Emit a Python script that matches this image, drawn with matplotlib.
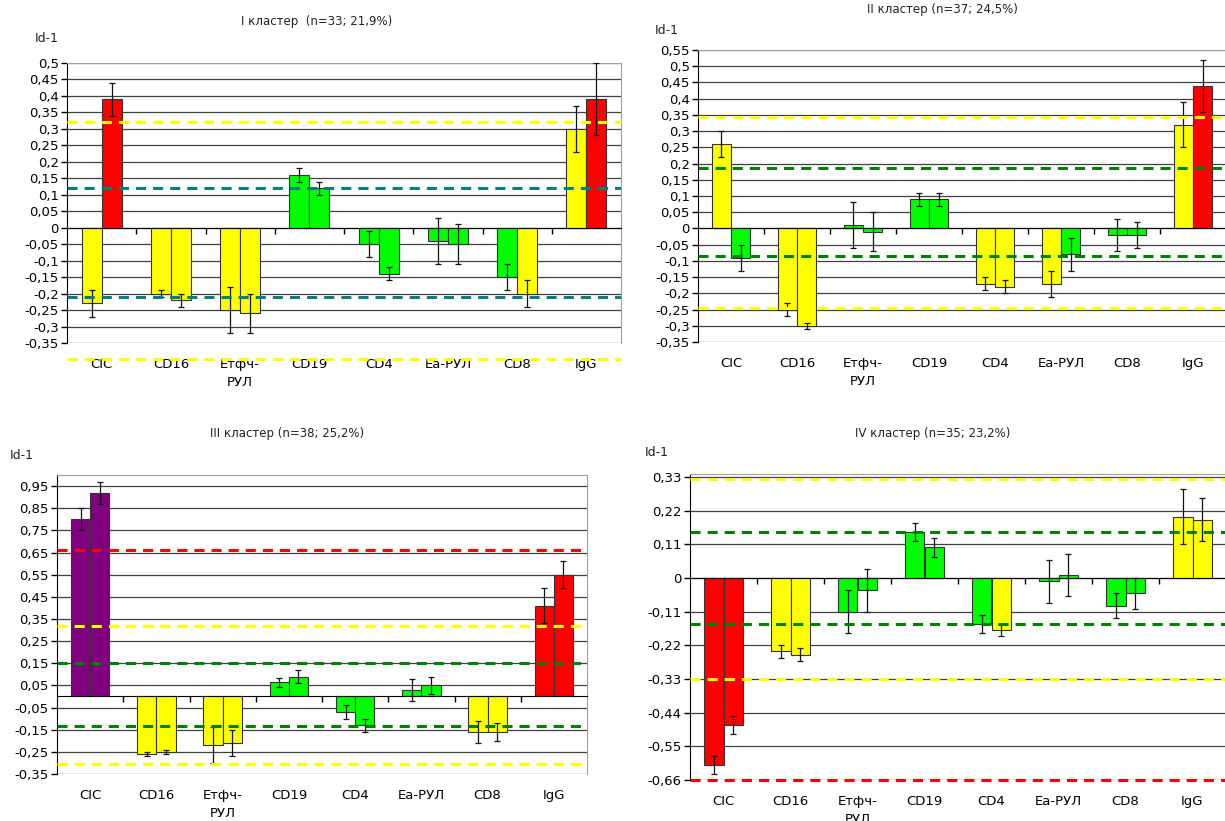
import matplotlib.pyplot as plt
import numpy as np

plt.rcParams['font.family'] = ['DejaVu Sans']

categories = ['CIC', 'CD16', 'Етфч-\nРУЛ', 'CD19', 'CD4', 'Ea-РУЛ', 'CD8', 'IgG']

# I кластер
c1_a = [-0.23, -0.20, -0.25, 0.16, -0.05, -0.04, -0.15, 0.30]
c1_b = [0.39, -0.22, -0.26, 0.12, -0.14, -0.05, -0.20, 0.39]
c1_err_a = [0.04, 0.01, 0.07, 0.02, 0.04, 0.07, 0.04, 0.07]
c1_err_b = [0.05, 0.02, 0.06, 0.02, 0.02, 0.06, 0.04, 0.11]
c1_lvl_a = ['y', 'y', 'y', 'g', 'g', 'g', 'g', 'y']
c1_lvl_b = ['r', 'y', 'y', 'g', 'g', 'g', 'y', 'r']
c1_outer = [0.32, -0.40]
c1_inner = [0.12, -0.21]
c1_crit = []

# II кластер
c2_a = [0.26, -0.25, 0.01, 0.09, -0.17, -0.17, -0.02, 0.32]
c2_b = [-0.09, -0.30, -0.01, 0.09, -0.18, -0.08, -0.02, 0.44]
c2_err_a = [0.04, 0.02, 0.07, 0.02, 0.02, 0.04, 0.05, 0.07]
c2_err_b = [0.04, 0.01, 0.06, 0.02, 0.02, 0.05, 0.04, 0.08]
c2_lvl_a = ['y', 'y', 'g', 'g', 'y', 'y', 'g', 'y']
c2_lvl_b = ['g', 'y', 'g', 'g', 'y', 'g', 'g', 'r']
c2_outer = [0.345, -0.245]
c2_inner = [0.185, -0.085]
c2_crit = []

# III кластер
c3_a = [0.80, -0.26, -0.22, 0.065, -0.07, 0.03, -0.16, 0.41]
c3_b = [0.92, -0.25, -0.21, 0.09, -0.13, 0.05, -0.16, 0.55]
c3_err_a = [0.05, 0.01, 0.08, 0.02, 0.03, 0.05, 0.05, 0.08]
c3_err_b = [0.05, 0.01, 0.06, 0.03, 0.03, 0.04, 0.04, 0.06]
c3_lvl_a = ['p', 'y', 'y', 'g', 'g', 'g', 'y', 'r']
c3_lvl_b = ['p', 'y', 'y', 'g', 'g', 'g', 'y', 'r']
c3_outer = [0.32, -0.305]
c3_inner = [0.15, -0.135]
c3_crit = [0.66]

# IV кластер
c4_a = [-0.61, -0.24, -0.11, 0.15, -0.15, -0.01, -0.09, 0.20]
c4_b = [-0.48, -0.25, -0.04, 0.10, -0.17, 0.01, -0.05, 0.19]
c4_err_a = [0.03, 0.02, 0.07, 0.03, 0.03, 0.07, 0.04, 0.09]
c4_err_b = [0.03, 0.02, 0.07, 0.03, 0.02, 0.07, 0.05, 0.07]
c4_lvl_a = ['r', 'y', 'g', 'g', 'g', 'g', 'g', 'y']
c4_lvl_b = ['r', 'y', 'g', 'g', 'y', 'g', 'g', 'y']
c4_outer = [0.325, -0.33]
c4_inner = [0.15, -0.15]
c4_crit = [-0.66]

titles = ['I кластер  (n=33; 21,9%)', 'II кластер (n=37; 24,5%)',
          'III кластер (n=38; 25,2%)', 'IV кластер (n=35; 23,2%)']

COLORS = {'y': '#ffff00', 'g': '#00ff00', 'r': '#ff0000', 'p': '#800080'}


def fmt(v):
    s = ('%.2f' % v).rstrip('0').rstrip('.')
    if s in ('-0', '0'):
        return '0'
    return s.replace('.', ',')


def draw_panel(rect, a, b, ea, eb, la, lb, outer, inner, crit, inner_col,
               ylim, ticks, title, title_xy, id_xy):
    ax = fig.add_axes(rect)
    x = np.arange(len(categories))
    w = 0.29
    ax.bar(x - w / 2, a, w, color=[COLORS[c] for c in la],
           edgecolor='#333333', lw=0.8, zorder=2)
    ax.bar(x + w / 2, b, w, color=[COLORS[c] for c in lb],
           edgecolor='#333333', lw=0.8, zorder=2)
    ax.errorbar(x - w / 2, a, yerr=ea, fmt='none', ecolor='#111111',
                elinewidth=0.9, capsize=2.5, capthick=0.9, zorder=3)
    ax.errorbar(x + w / 2, b, yerr=eb, fmt='none', ecolor='#111111',
                elinewidth=0.9, capsize=2.5, capthick=0.9, zorder=3)

    dash = (3.3, 2.3)
    for v in outer:
        ax.axhline(v, color='#ffff00', lw=2.2, dashes=dash, zorder=4,
                   clip_on=False)
    for v in inner:
        ax.axhline(v, color=inner_col, lw=2.2, dashes=dash, zorder=4)
    for v in crit:
        ax.axhline(v, color='#ff0000', lw=2.2, dashes=dash, zorder=4,
                   clip_on=False)

    ax.set_xlim(-0.5, len(categories) - 0.5)
    ax.set_ylim(*ylim)
    ax.set_yticks(ticks)
    ax.set_yticklabels([fmt(t) for t in ticks], fontsize=9.5)
    ax.yaxis.grid(True, color='#404040', lw=0.9, zorder=0)
    ax.set_axisbelow(True)
    ax.tick_params(axis='y', direction='out', length=4, width=1, pad=2)

    ax.spines['bottom'].set_position(('data', 0))
    ax.spines['bottom'].set_color('black')
    ax.spines['bottom'].set_zorder(3)
    ax.set_xticks(np.arange(0.5, len(categories) - 0.5, 1))
    ax.tick_params(axis='x', direction='out', length=4, width=1,
                   labelbottom=False)
    ax.spines['left'].set_color('black')
    ax.spines['top'].set_color('#a0a0a0')
    ax.spines['right'].set_color('#a0a0a0')

    for i, name in enumerate(categories):
        ax.annotate(name, xy=(i, 0), xycoords=('data', 'axes fraction'),
                    xytext=(0, -11), textcoords='offset points',
                    ha='center', va='top', fontsize=9.5, linespacing=1.45,
                    annotation_clip=False)

    fig.text(title_xy[0], title_xy[1], title, ha='center', va='center',
             fontsize=8.5, color='#222222')
    fig.text(id_xy[0], id_xy[1], 'Id-1', ha='left', va='center',
             fontsize=9, color='#222222')
    return ax


fig = plt.figure(figsize=(12.25, 8.21), dpi=100)
W, H = 1225.0, 821.0


def box(l, t, r, b):
    return [l / W, 1 - b / H, (r - l) / W, (b - t) / H]


draw_panel(box(67, 63, 621, 343), c1_a, c1_b, c1_err_a, c1_err_b,
           c1_lvl_a, c1_lvl_b, c1_outer, c1_inner, c1_crit, '#008080',
           (-0.35, 0.5), np.round(np.arange(-0.35, 0.501, 0.05), 2),
           titles[0], (317 / W, 1 - 22 / H), (35 / W, 1 - 38 / H))

draw_panel(box(698, 50, 1226, 342), c2_a, c2_b, c2_err_a, c2_err_b,
           c2_lvl_a, c2_lvl_b, c2_outer, c2_inner, c2_crit, '#008000',
           (-0.35, 0.55), np.round(np.arange(-0.35, 0.551, 0.05), 2),
           titles[1], (942 / W, 1 - 10 / H), (655 / W, 1 - 30 / H))

draw_panel(box(57, 475, 587, 774), c3_a, c3_b, c3_err_a, c3_err_b,
           c3_lvl_a, c3_lvl_b, c3_outer, c3_inner, c3_crit, '#008000',
           (-0.35, 1.0), np.round(np.arange(-0.35, 0.951, 0.1), 2),
           titles[2], (287 / W, 1 - 433 / H), (10 / W, 1 - 455 / H))

draw_panel(box(690, 474, 1226, 780), c4_a, c4_b, c4_err_a, c4_err_b,
           c4_lvl_a, c4_lvl_b, c4_outer, c4_inner, c4_crit, '#008000',
           (-0.66, 0.34), np.round(np.arange(-0.66, 0.331, 0.11), 2),
           titles[3], (933 / W, 1 - 433 / H), (645 / W, 1 - 453 / H))

fig.savefig('out.png', dpi=100)
